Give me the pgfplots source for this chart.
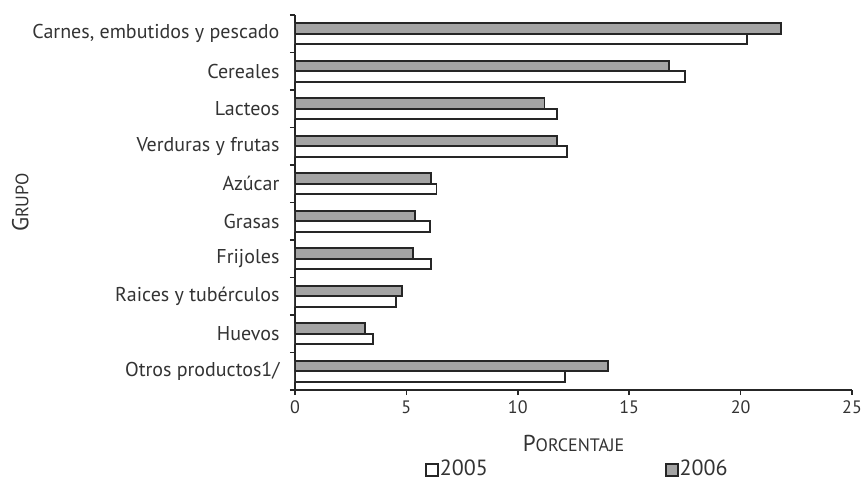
\documentclass[border=0pt]{standalone}
\usepackage{fontspec}
\setmainfont{PT Sans}
\usepackage{pgfplots}
\pgfplotsset{compat=1.18}
\definecolor{bargray}{HTML}{A4A4A4}
\definecolor{txt}{HTML}{333333}
\begin{document}
\begin{tikzpicture}
\begin{axis}[
  scale only axis, width=557pt, height=375pt,
  xmin=0, xmax=25, ymin=-0.5, ymax=9.5,
  xbar, bar width=10.5pt,
  axis x line*=bottom, axis y line*=left,
  axis line style={-, line width=1.6pt, black!85},
  tick align=outside,
  major tick length=5pt,
  tick style={line width=1.6pt, black!85},
  xtick={0,5,...,25},
  ytick={-0.5,0.5,1.5,2.5,3.5,4.5,5.5,6.5,7.5,8.5,9.5},
  yticklabels={},
  extra y ticks={0,1,2,3,4,5,6,7,8,9},
  extra y tick labels={{Otros productos1/},{Huevos},{Raices y tubérculos},{Frijoles},{Grasas},{Azúcar},{Verduras y frutas},{Lacteos},{Cereales},{Carnes, embutidos y pescado}},
  extra y tick style={major tick length=0pt},
  yticklabel style={xshift=-12pt, font=\fontsize{20}{22}\selectfont, text=txt},
  xticklabel style={font=\fontsize{18}{20}\selectfont, text=txt, yshift=-2pt},
  /pgf/number format/assume math mode=true,
  xlabel={{\fontsize{23}{24}\selectfont P}{\fontsize{18}{20}\selectfont ORCENTAJE}},
  xlabel style={text=txt, yshift=-15pt},
  ylabel={{\fontsize{23}{24}\selectfont G}{\fontsize{18}{20}\selectfont RUPO}},
  ylabel style={text=txt, yshift=-8pt},
  legend style={at={(axis description cs:0.506,0)}, anchor=north, yshift=-69pt,
    draw=none, fill=none, legend columns=2, font=\fontsize{22}{23}\selectfont, text=txt,
    /tikz/every even column/.append style={column sep=176pt},
    inner sep=0pt, nodes={inner sep=1pt}},
  legend image code/.code={\draw[#1, line width=1.8pt] (0pt,-7pt) rectangle (12pt,5pt);},
]
\addplot[fill=white, draw=black!85, line width=1.9pt, bar shift=-5.25pt]
  coordinates {(12.1,0) (3.5,1) (4.55,2) (6.1,3) (6.05,4) (6.35,5) (12.2,6) (11.75,7) (17.5,8) (20.3,9)};
\addlegendentry{2005}
\addplot[fill=bargray, draw=black!85, line width=1.9pt, bar shift=5.25pt]
  coordinates {(14.05,0) (3.15,1) (4.8,2) (5.3,3) (5.4,4) (6.1,5) (11.75,6) (11.2,7) (16.8,8) (21.8,9)};
\addlegendentry{2006}
\end{axis}
\pgfresetboundingbox
\path ([xshift=-295pt,yshift=-95pt]current axis.south west) rectangle ([xshift=13pt,yshift=15pt]current axis.north east);
\end{tikzpicture}
\end{document}
